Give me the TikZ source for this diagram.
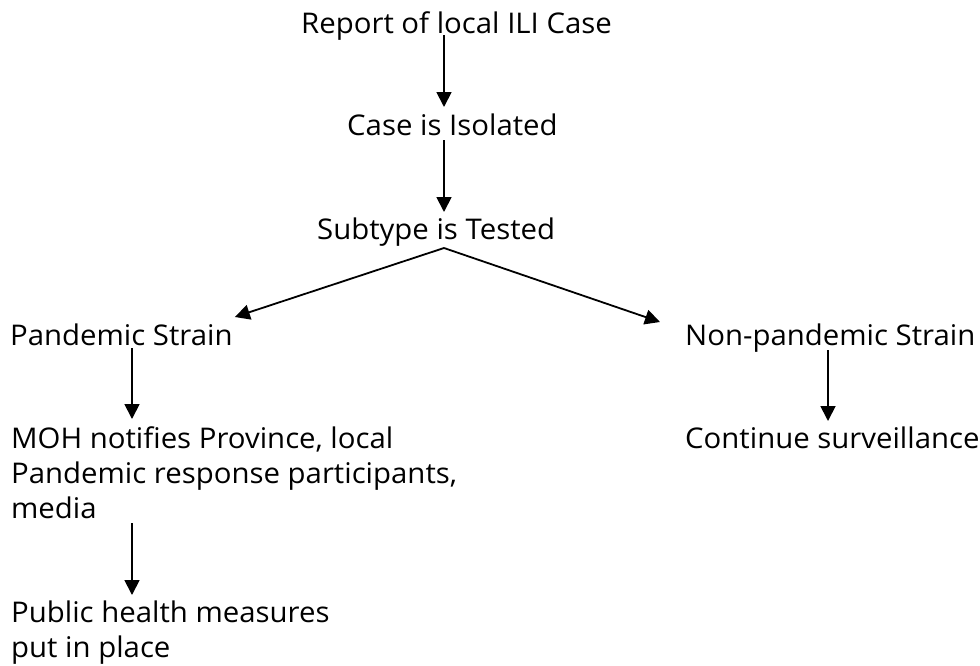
\documentclass[tikz,border=0pt]{standalone}
\usepackage{fontspec}
\setmainfont[FakeStretch=1.03]{Open Sans}
\usetikzlibrary{arrows.meta}
\begin{document}
\begin{tikzpicture}[x=1pt,y=-1pt,
  lbl/.style={anchor=base west, inner sep=0pt, align=left,
              font=\fontsize{28.5}{35}\selectfont},
  flow/.style={-{Triangle[width=15pt,length=15pt]}, line width=1.8pt}]
\useasboundingbox (0,0) rectangle (980,665);

% vertical lines of the arrows
\coordinate (xa) at (444,0);
\coordinate (xb) at (132,0);
\coordinate (xc) at (828,0);

% steps of the procedure (base = baseline of the last line)
\node[lbl] (rep) at (301,33)  {Report of local ILI Case};
\node[lbl] (iso) at (347,135) {Case is Isolated};
\node[lbl] (sub) at (317,239) {Subtype is Tested};
\node[lbl] (pan) at (10,345)  {Pandemic Strain};
\node[lbl] (non) at (685,345) {Non-pandemic Strain};
\node[lbl] (moh) at (11,518)  {MOH notifies Province, local\\Pandemic response participants,\\media};
\node[lbl] (con) at (685,448) {Continue surveillance};
\node[lbl] (pub) at (11,657)  {Public health measures\\put in place};

% connectors
\draw[flow] ([yshift=-2pt]rep.base -| xa) -- ([yshift=28pt]iso.base -| xa);
\draw[flow] ([yshift=-5pt]iso.base -| xa) -- ([yshift=27pt]sub.base -| xa);
\draw[flow] ([yshift=-9pt]sub.base -| xa) -- ([xshift=2pt,yshift=28pt]pan.base east);
\draw[flow] ([yshift=-9pt]sub.base -| xa) -- ([xshift=-25pt,yshift=23pt]non.base west);
\draw[flow] ([yshift=-3pt]pan.base -| xb) -- ([yshift=99pt]moh.base -| xb);
\draw[flow] ([yshift=-5pt]moh.base -| xb) -- ([yshift=62pt]pub.base -| xb);
\draw[flow] ([yshift=-5pt]non.base -| xc) -- ([yshift=27pt]con.base -| xc);
\end{tikzpicture}
\end{document}
